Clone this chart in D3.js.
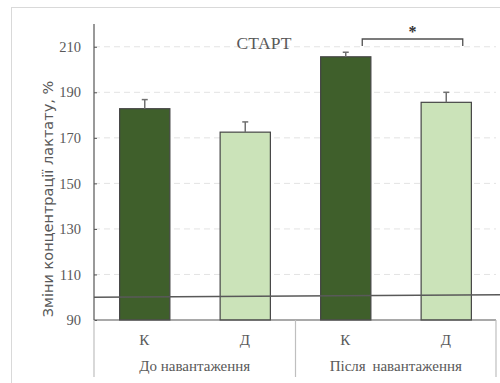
<!DOCTYPE html>
<html>
<head>
<meta charset="utf-8">
<script src="https://cdn.jsdelivr.net/npm/d3@7"></script>
<style>
  html, body { margin: 0; padding: 0; background: #fff; }
  svg { display: block; }
</style>
</head>
<body>
<svg id="chart" width="500" height="383"></svg>
<script>
// Lactate concentration change, % (mean and upper error)
const groups = ["До навантаження", "Після навантаження"];
const subgroups = ["К", "Д"];
const labels = ["К", "Д", "К", "Д"];
const groupOf = [0, 0, 1, 1];
const means = [182.8, 172.5, 205.6, 185.6];
const errors = [4.0, 4.5, 2.0, 4.4];
const yTicks = [90, 110, 130, 150, 170, 190, 210];
const baseline = [100, 101.1];   // reference line, left and right end
const sigPair = [2, 3];           // bars compared by the bracket
const sigLabel = "*";
const title = "СТАРТ";
const yTitle = "Зміни концентрації лактату, %";

const colors = ["#3f5f2b", "#cbe3b9"];

const svg = d3.select("#chart");
const W = 500, H = 383;

// outer frame
svg.append("rect")
  .attr("x", 11.5).attr("y", 7.5)
  .attr("width", 500).attr("height", 400)
  .attr("fill", "none").attr("stroke", "#d9d9d9");

const plotL = 94, plotR = 496, plotT = 24, plotB = 320;

const x = d3.scaleBand().domain(d3.range(labels.length)).range([plotL, plotR]).paddingInner(0.5).paddingOuter(0.25);
const y = d3.scaleLinear().domain([90, 220]).range([plotB, plotT]);

// dashed grid
svg.append("g").selectAll("line")
  .data(yTicks.filter(d => d > 90))
  .join("line")
  .attr("x1", plotL).attr("x2", plotR)
  .attr("y1", d => y(d)).attr("y2", d => y(d))
  .attr("stroke", "#e3e3e3").attr("stroke-dasharray", "6,4");

// bars
svg.append("g").selectAll("rect")
  .data(means)
  .join("rect")
  .attr("x", (d, i) => x(i) + 0.5)
  .attr("y", d => y(d))
  .attr("width", x.bandwidth())
  .attr("height", d => y(90) - y(d))
  .attr("fill", (d, i) => colors[i % 2])
  .attr("stroke", "#454545").attr("stroke-width", 1.2);

// error bars (upper only)
const eb = svg.append("g").attr("stroke", "#707070").attr("stroke-width", 1.5);
means.forEach((m, i) => {
  const cx = x(i) + x.bandwidth() / 2 + 0.5;
  eb.append("line").attr("x1", cx).attr("x2", cx).attr("y1", y(m)).attr("y2", y(m + errors[i]));
  eb.append("line").attr("x1", cx - 3).attr("x2", cx + 3).attr("y1", y(m + errors[i])).attr("y2", y(m + errors[i]));
});

// y axis
const serif = "'Liberation Serif', 'Times New Roman', serif";
const yAxis = d3.axisLeft(y).tickValues(yTicks).tickSize(-3).tickPadding(13).tickFormat(d3.format("d"));
const ya = svg.append("g").attr("transform", `translate(${plotL},0)`).call(yAxis);
ya.select(".domain").attr("stroke", "#555").attr("stroke-width", 1.2).attr("d", `M0,${plotT}V${plotB}`);
ya.selectAll(".tick line").attr("stroke", "#555");
ya.selectAll("text")
  .attr("font-family", serif)
  .attr("font-size", 14.5).attr("fill", "#595959");

// baseline axis
svg.append("line").attr("x1", plotL).attr("x2", plotR).attr("y1", plotB).attr("y2", plotB)
  .attr("stroke", "#555").attr("stroke-width", 1.2);

// reference line across the plot
svg.append("line")
  .attr("x1", plotL).attr("x2", W)
  .attr("y1", y(baseline[0])).attr("y2", y(baseline[1]))
  .attr("stroke", "#595959").attr("stroke-width", 1.6);

// category labels and group dividers
svg.append("g").selectAll("text")
  .data(labels)
  .join("text")
  .attr("x", (d, i) => x(i) + x.bandwidth() / 2)
  .attr("y", 345)
  .attr("text-anchor", "middle")
  .attr("font-family", serif).attr("font-size", 15).attr("fill", "#595959")
  .text(d => d);

const step = x.step();
const groupEdges = [plotL, plotL + 2 * step + 0.5, plotR];
svg.append("g").selectAll("line")
  .data(groupEdges)
  .join("line")
  .attr("x1", d => d).attr("x2", d => d)
  .attr("y1", plotB).attr("y2", 377)
  .attr("stroke", "#bfbfbf").attr("stroke-width", 1.2);

svg.append("g").selectAll("text")
  .data(groups)
  .join("text")
  .attr("x", (d, g) => (groupEdges[g] + groupEdges[g + 1]) / 2)
  .attr("y", 371)
  .attr("text-anchor", "middle")
  .attr("font-family", serif).attr("font-size", 15).attr("fill", "#595959")
  .style("word-spacing", (d, g) => g === 1 ? "3px" : "0px")
  .text(d => d);

// chart title
svg.append("text")
  .attr("x", 264).attr("y", 49)
  .attr("text-anchor", "middle")
  .attr("font-family", serif).attr("font-size", 17.5).attr("fill", "#595959")
  .text(title);

// y axis title
svg.append("text")
  .attr("transform", `translate(53,199) rotate(-90)`)
  .attr("text-anchor", "middle")
  .attr("font-family", "'DejaVu Sans', sans-serif").attr("font-size", 14.5).attr("fill", "#595959")
  .text(yTitle);

// significance bracket
const bx1 = x(sigPair[0]) + x.bandwidth() / 2 + 17;
const bx2 = x(sigPair[1]) + x.bandwidth() / 2 + 17;
const by = 39, bleg = 46;
svg.append("path")
  .attr("d", `M${bx1},${bleg}V${by}H${bx2}V${bleg}`)
  .attr("fill", "none").attr("stroke", "#505050").attr("stroke-width", 1.3);
svg.append("text")
  .attr("x", (bx1 + bx2) / 2).attr("y", 37)
  .attr("text-anchor", "middle")
  .attr("font-family", serif).attr("font-size", 16).attr("font-weight", "bold").attr("fill", "#333")
  .text(sigLabel);
</script>
</body>
</html>
